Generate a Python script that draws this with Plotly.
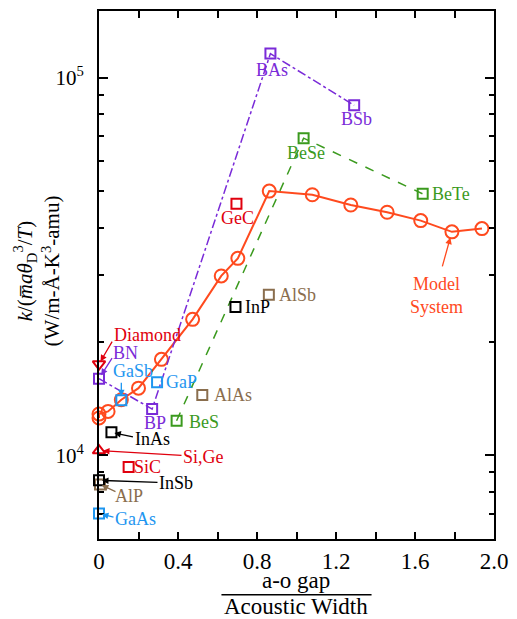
import math
import plotly.graph_objects as go

# ---------------- data ----------------
# Model system (open circles, solid line)
model_x = [0.0, 0.0, 0.046, 0.113, 0.200, 0.316, 0.474, 0.619, 0.703, 0.862, 1.080, 1.275, 1.459, 1.629, 1.787, 1.939]
model_y = [12550, 12850, 13060, 14020, 15050, 17940, 22890, 29830, 33200, 50030, 48930, 45970, 43980, 41800, 39030, 39810]

# Boron compounds (purple, dash-dot)
boron_names = ["BN", "BP", "BAs", "BSb"]
boron_x = [0.0, 0.269, 0.868, 1.292]
boron_y = [15950, 13250, 115700, 84400]

# Beryllium compounds (green, dashed)
be_names = ["BeS", "BeSe", "BeTe"]
be_x = [0.393, 1.036, 1.639]
be_y = [12340, 69100, 49200]

# Group IV carbides (red squares)
iv_names = ["SiC", "GeC"]
iv_x = [0.150, 0.696]
iv_y = [9300, 46330]

# Elemental (red triangles)
diamond_x = [0.0]
diamond_y = [17430]
sige_x = [0.0]
sige_y = [10290]

# Gallium compounds (blue)
ga_names = ["GaSb", "GaP", "GaAs"]
ga_x = [0.113, 0.294, 0.0]
ga_y = [13990, 15600, 7010]

# Aluminium compounds (brown)
al_names = ["AlAs", "AlSb", "AlP"]
al_x = [0.523, 0.860, 0.005]
al_y = [14440, 26590, 8370]

# Indium compounds (black)
in_names = ["InAs", "InSb", "InP"]
in_x = [0.063, 0.0, 0.691]
in_y = [11500, 8580, 24670]

x_ticks = [0.0, 0.4, 0.8, 1.2, 1.6, 2.0]
x_ticktext = ["0", "0.4", "0.8", "1.2", "1.6", "2.0"]
x_minor = [0.2, 0.6, 1.0, 1.4, 1.8]
y_ticks = [1e4, 1e5]
y_ticktext = ["10<sup>4</sup>", "10<sup>5</sup>"]
y_minor = [7000, 8000, 9000, 20000, 30000, 40000, 50000, 60000, 70000, 80000, 90000]

# ---------------- styles ----------------
RED = "#E0000E"
PURPLE = "#7A2BD8"
GREEN = "#3B9A1E"
BLUE = "#1E96F0"
BROWN = "#8A6E4E"
BLACK = "#000000"
ORANGE = "#FF4A1E"
FONT = "Liberation Serif"

fig = go.Figure()

def sq(x, y, color, mode="markers", dash=None):
    fig.add_trace(go.Scatter(
        x=x, y=y, mode=mode, cliponaxis=False, showlegend=False,
        marker=dict(symbol="square-open", size=10, color=color, line=dict(width=2, color=color)),
        line=dict(color=color, width=1.5, dash=dash) if dash else None,
    ))

fig.add_trace(go.Scatter(
    x=model_x, y=model_y, mode="lines+markers", cliponaxis=False, showlegend=False,
    line=dict(color=ORANGE, width=2),
    marker=dict(symbol="circle-open", size=13, color=ORANGE, line=dict(width=2, color=ORANGE)),
))
sq(boron_x, boron_y, PURPLE, "lines+markers", "dashdot")
sq(be_x, be_y, GREEN, "lines+markers", "dash")
sq(iv_x, iv_y, RED)
sq(ga_x, ga_y, BLUE)
sq(al_x, al_y, BROWN)
sq(in_x, in_y, BLACK)
fig.add_trace(go.Scatter(x=diamond_x, y=diamond_y, mode="markers", cliponaxis=False, showlegend=False,
                         marker=dict(symbol="triangle-down-open", size=11, color=RED, line=dict(width=2, color=RED))))
fig.add_trace(go.Scatter(x=sige_x, y=sige_y, mode="markers", cliponaxis=False, showlegend=False,
                         marker=dict(symbol="triangle-up-open", size=11, color=RED, line=dict(width=2, color=RED))))

# point lookup
pts = {}
for names, xs, ys in [(boron_names, boron_x, boron_y), (be_names, be_x, be_y), (iv_names, iv_x, iv_y),
                      (ga_names, ga_x, ga_y), (al_names, al_x, al_y), (in_names, in_x, in_y)]:
    for n, xv, yv in zip(names, xs, ys):
        pts[n] = (xv, yv)
pts["Diamond"] = (diamond_x[0], diamond_y[0])
pts["Si,Ge"] = (sige_x[0], sige_y[0])
pts["Model"] = (model_x[14], model_y[14])

anns = []
# labels: name, text, color, xshift, yshift
labels = [
    ("InP", "InP", BLACK, 22, 0), ("AlSb", "AlSb", BROWN, 29, 0), ("GeC", "GeC", RED, 1, -14),
    ("BAs", "BAs", PURPLE, 2, -16), ("BSb", "BSb", PURPLE, 2, -14), ("BeSe", "BeSe", GREEN, 2, -15),
    ("BeTe", "BeTe", GREEN, 28, 0), ("GaP", "GaP", BLUE, 24, 0), ("AlAs", "AlAs", BROWN, 31, 0),
    ("BP", "BP", PURPLE, 3, -14), ("BeS", "BeS", GREEN, 27, -1), ("SiC", "SiC", RED, 19, 0),
    ("Diamond", "Diamond", RED, 48, 29), ("BN", "BN", PURPLE, 26, 26), ("GaSb", "GaSb", BLUE, 12, 29),
    ("InAs", "InAs", BLACK, 41, -7), ("Si,Ge", "Si,Ge", RED, 104, -6), ("InSb", "InSb", BLACK, 77, -3),
    ("AlP", "AlP", BROWN, 29, -12), ("GaAs", "GaAs", BLUE, 36, -6),
    ("Model", "Model<br>System", ORANGE, -15, -64),
]
for key, txt, col, xs_, ys_ in labels:
    xv, yv = pts[key]
    anns.append(dict(x=xv, y=math.log10(yv), xref="x", yref="y", text=txt, showarrow=False,
                     xshift=xs_, yshift=ys_, font=dict(family=FONT, size=18, color=col)))

# arrows: name, color, ax, ay, standoff
arrows = [
    ("Diamond", RED, 14, -24, 3), ("BN", PURPLE, 14, -22, 4), ("GaSb", BLUE, 0, -19, 4),
    ("InAs", BLACK, 23, 5, 3), ("Si,Ge", RED, 84, 5, 4), ("InSb", BLACK, 60, 2, 3),
    ("AlP", BROWN, 17, 8, 2), ("GaAs", BLUE, 16, 4, 3), ("Model", ORANGE, -10, 36, 6),
]
for key, col, ax, ay, so in arrows:
    xv, yv = pts[key]
    anns.append(dict(x=xv, y=math.log10(yv), xref="x", yref="y", text="", showarrow=True,
                     ax=ax, ay=ay, arrowcolor=col, arrowwidth=1.3, arrowhead=2, arrowsize=1, standoff=so))

# axis titles
anns.append(dict(x=0.4988, y=-0.079, xref="paper", yref="paper", text="a-o gap", showarrow=False,
                 font=dict(family=FONT, size=23, color="black"), xanchor="center", yanchor="middle"))
anns.append(dict(x=0.4988, y=-0.1555, xref="paper", yref="paper", text="Acoustic Width", showarrow=False,
                 font=dict(family=FONT, size=23, color="black"), xanchor="center", yanchor="bottom"))
anns.append(dict(x=-0.156, y=0.5075, xref="paper", yref="paper", textangle=-90, showarrow=False,
                 xanchor="center", yanchor="middle",
                 text="<i>k</i>/(<i>m\u0305aθ</i><sub>D</sub><sup>3</sup>/<i>T</i>)<br>(W/m-Å-K<sup>3</sup>-amu)",
                 font=dict(family=FONT, size=21, color="black")))

fig.update_layout(
    width=517, height=619, margin=dict(l=99, r=15, t=9, b=80),
    paper_bgcolor="white", plot_bgcolor="white", annotations=anns,
    shapes=[dict(type="line", xref="paper", yref="paper", x0=0.310, x1=0.690, y0=-0.1057, y1=-0.1057,
                 line=dict(color="black", width=1.5))],
)
fig.update_xaxes(range=[0, 2.0], tickvals=x_ticks, ticktext=x_ticktext, ticks="inside", ticklen=7, tickwidth=1.5,
                 minor=dict(tickvals=x_minor, ticks="inside", ticklen=7, tickwidth=1.5, tickcolor="black"),
                 showline=True, linecolor="black", linewidth=2, mirror="ticks", showgrid=False, zeroline=False,
                 tickfont=dict(family=FONT, size=23, color="black"), tickcolor="black")
fig.update_yaxes(type="log", range=[math.log10(6000), math.log10(150000)], tickvals=y_ticks, ticktext=y_ticktext,
                 ticks="inside", ticklen=9, tickwidth=1.5, tickcolor="black",
                 minor=dict(tickvals=y_minor, ticks="inside", ticklen=5, tickwidth=1.5, tickcolor="black"),
                 showline=True, linecolor="black", linewidth=2, mirror="ticks", showgrid=False, zeroline=False,
                 tickfont=dict(family=FONT, size=21, color="black"), ticklabelstandoff=9)

fig.write_html("out.html")
